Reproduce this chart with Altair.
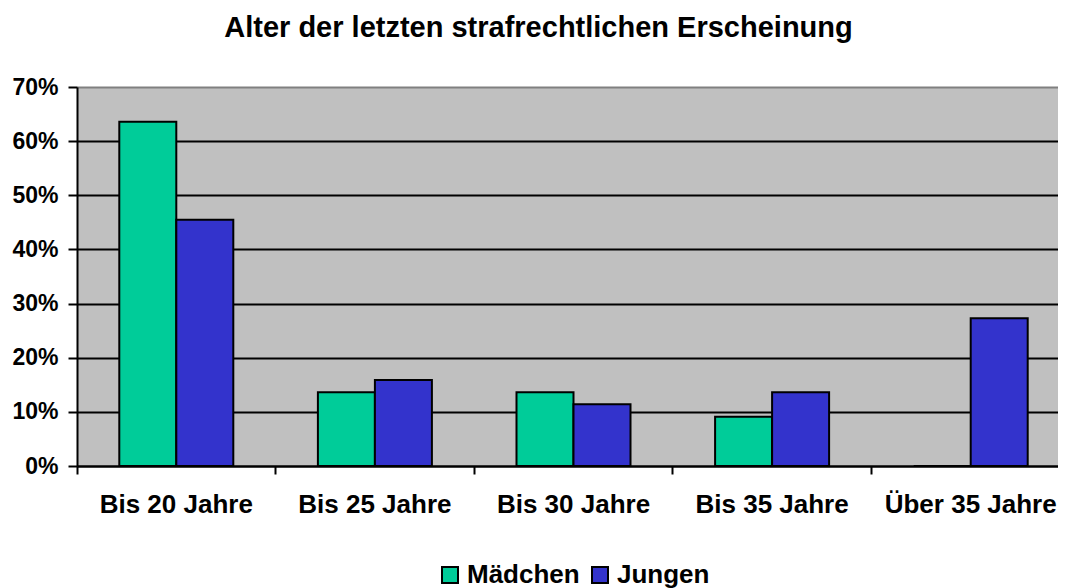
import altair as alt
import pandas as pd

categories = ["Bis 20 Jahre", "Bis 25 Jahre", "Bis 30 Jahre", "Bis 35 Jahre", "Über 35 Jahre"]
series_names = ["Mädchen", "Jungen"]
maedchen = [0.636, 0.136, 0.136, 0.091, 0.0]
jungen = [0.455, 0.159, 0.114, 0.136, 0.273]
y_ticks = [0, 0.1, 0.2, 0.3, 0.4, 0.5, 0.6, 0.7]
colors = ["#00CC99", "#3333CC"]

rows = []
for c, m, j in zip(categories, maedchen, jungen):
    rows.append({"Kategorie": c, "Gruppe": "Mädchen", "Anteil": m})
    rows.append({"Kategorie": c, "Gruppe": "Jungen", "Anteil": j})
df = pd.DataFrame(rows)

FONT = "Liberation Sans"

chart = alt.Chart(df).mark_bar(stroke="black", strokeWidth=2).encode(
    x=alt.X(
        "Kategorie:N",
        sort=categories,
        title=None,
        scale=alt.Scale(rangeMin=0, rangeMax=993, paddingInner=0, paddingOuter=0),
        axis=alt.Axis(
            bandPosition=0,
            labelAngle=0,
            labelFont=FONT,
            labelFontSize=26,
            labelFontWeight="bold",
            labelColor="black",
            labelPadding=17,
            tickSize=8,
            tickColor="black",
            tickWidth=2,
            domainColor="black",
            domainWidth=2,
            grid=False,
        ),
    ),
    xOffset=alt.XOffset(
        "Gruppe:N",
        sort=series_names,
        scale=alt.Scale(paddingInner=0, paddingOuter=0.742),
    ),
    y=alt.Y(
        "Anteil:Q",
        title=None,
        scale=alt.Scale(domain=[0, 0.7], nice=False),
        axis=alt.Axis(
            values=y_ticks,
            format=".0%",
            labelFont=FONT,
            labelFontSize=23,
            labelFontWeight="bold",
            labelColor="black",
            labelPadding=10,
            tickSize=9,
            tickColor="black",
            tickWidth=2,
            domainColor="black",
            domainWidth=2,
            grid=True,
            gridColor={"condition": {"test": "datum.value >= 0.69", "value": "#808080"}, "value": "black"},
            gridWidth=2,
            gridOpacity=1,
        ),
    ),
    color=alt.Color(
        "Gruppe:N",
        sort=series_names,
        scale=alt.Scale(domain=series_names, range=colors),
        legend=alt.Legend(
            title=None,
            orient="none",
            direction="horizontal",
            legendX=360,
            legendY=475,
            padding=0,
            symbolType="square",
            symbolSize=256,
            symbolStrokeColor="black",
            symbolStrokeWidth=2,
            symbolOpacity=1,
            labelFont=FONT,
            labelFontSize=26,
            labelFontWeight="bold",
            labelColor="black",
            labelOffset=4,
            columnPadding=7,
        ),
    ),
).properties(
    width=981,
    height=379,
    title=alt.TitleParams(
        "Alter der letzten strafrechtlichen Erscheinung",
        font=FONT,
        fontSize=29,
        fontWeight="bold",
        color="black",
        anchor="middle",
        baseline="alphabetic",
        offset=10,
        dx=-29,
    ),
    autosize=alt.AutoSizeParams(type="none"),
    padding={"left": 69, "top": 79, "right": 0, "bottom": 122},
).configure_view(
    fill="#C0C0C0",
    stroke=None,
)

chart.save("out.html", embed_options={"renderer": "svg", "actions": False})
